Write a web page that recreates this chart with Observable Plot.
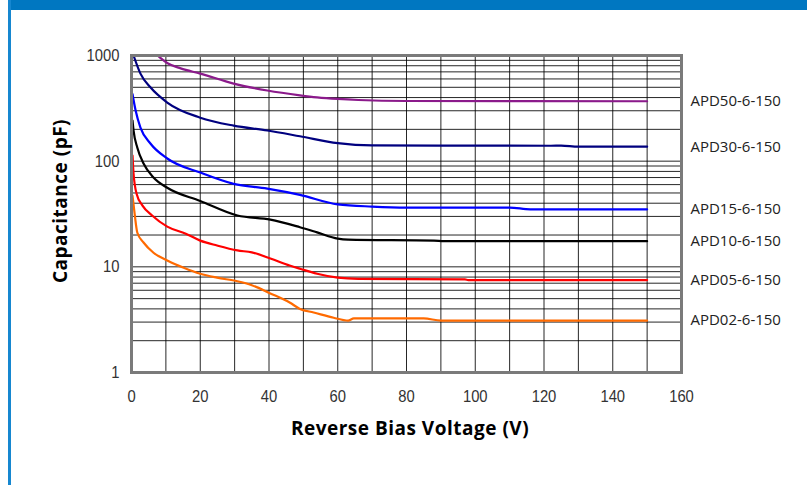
<!DOCTYPE html>
<html>
<head>
<meta charset="utf-8">
<script src="https://cdn.jsdelivr.net/npm/d3@7"></script>
<script src="https://cdn.jsdelivr.net/npm/@observablehq/plot@0.6"></script>
<style>
  html, body { margin: 0; padding: 0; background: #fff; }
  #wrap { position: relative; width: 807px; height: 487px; overflow: hidden; background: #fff; }
  #topbar { position: absolute; left: 8px; top: 0; width: 799px; height: 10px; background: #0077C1; }
  #leftbar { position: absolute; left: 8px; top: 0; width: 3px; height: 485px; background: #1687D0; }
  .axtitle { position: absolute; font-family: "Open Sans", sans-serif; font-weight: 700; font-size: 19px; letter-spacing: 0.5px; color: #000; white-space: nowrap; }
  #xtitle { left: 410px; top: 428px; transform: translate(-50%, -50%); }
  #ytitle { left: 60px; top: 201px; transform: translate(-50%, -50%) rotate(-90deg); }
</style>
</head>
<body>
<div id="wrap">
  <div id="topbar"></div>
  <div id="leftbar"></div>
  <div id="chart"></div>
  <div class="axtitle" id="xtitle">Reverse Bias Voltage (V)</div>
  <div class="axtitle" id="ytitle">Capacitance (pF)</div>
</div>
<script>
// ---- data ----
const seriesNames = ["APD50-6-150", "APD30-6-150", "APD15-6-150", "APD10-6-150", "APD05-6-150", "APD02-6-150"];

const apd50V = [7.6, 8.4, 10.5, 14.3, 20, 29.7, 39.5, 49, 54, 60, 66, 80, 150];
const apd50C = [1000, 950, 845, 755, 674, 542, 466, 420, 402, 388, 379, 371, 369];

const apd30V = [0.6, 2.6, 5.5, 10.4, 20, 29.7, 39.5, 49, 60, 70, 122, 125, 130, 150];
const apd30C = [1000, 674, 500, 359, 258, 217, 195, 172, 148, 141, 140, 140.5, 137, 137];

const apd15V = [0.3, 1.2, 2.6, 5.5, 10.4, 20, 29.7, 39.5, 49, 60, 70, 80, 110, 116, 150];
const apd15C = [430, 301, 208, 147, 106, 78, 61, 55, 48, 39, 37.2, 36.4, 36.4, 35, 35];

const apd10V = [0.3, 0.6, 1.7, 3.5, 6.4, 10.4, 20, 30.8, 40.4, 49, 54, 60, 63, 88, 91, 150];
const apd10C = [242, 195, 134, 95, 70, 56, 42, 30.6, 28, 23.7, 21.2, 18.5, 18.1, 17.7, 17.5, 17.5];

const apd05V = [0.3, 0.6, 1.5, 3.2, 6, 10.4, 15.8, 20, 24.9, 30.8, 35, 40.4, 46, 49, 54, 60, 66, 97, 98, 150];
const apd05C = [113, 76, 49, 38, 30.6, 24, 20.6, 17.7, 15.9, 14.3, 13.7, 12, 10.3, 9.6, 8.6, 7.9, 7.7, 7.6, 7.5, 7.5];

const apd02V = [0.3, 0.9, 1.7, 3.5, 6.4, 10.4, 15.2, 20, 24.9, 30.8, 35, 40.4, 46, 49, 53, 58.8, 63, 64.7, 85, 90, 150];
const apd02C = [47, 32, 21, 17, 13.6, 11.5, 9.8, 8.6, 7.9, 7.3, 6.7, 5.6, 4.6, 4.0, 3.7, 3.3, 3.1, 3.25, 3.25, 3.1, 3.1];

const xTicks = [0, 20, 40, 60, 80, 100, 120, 140, 160];
const yTicks = [1, 10, 100, 1000];

// ---- styles ----
const seriesColors = ["#8B1A8B", "#00007F", "#0000FF", "#000000", "#FF0000", "#FF6A00"];

const seriesV = [apd50V, apd30V, apd15V, apd10V, apd05V, apd02V];
const seriesC = [apd50C, apd30C, apd15C, apd10C, apd05C, apd02C];

const rows = [];
seriesNames.forEach((name, i) => {
  seriesV[i].forEach((v, j) => rows.push({series: name, v, c: seriesC[i][j]}));
});
const labels = seriesNames.map((name, i) => ({series: name, v: seriesV[i][seriesV[i].length - 1], c: seriesC[i][seriesC[i].length - 1]}));

const xGrid = d3.range(0, 161, 10);
const yGrid = [];
for (const dec of [1, 10, 100]) for (let k = 1; k <= 9; k++) yGrid.push(dec * k);
yGrid.push(1000);

const chart = Plot.plot({
  width: 807,
  height: 487,
  marginLeft: 131,
  marginRight: 126,
  marginTop: 55,
  marginBottom: 115,
  style: {fontFamily: "'Liberation Sans', Arial, sans-serif", fontSize: "17px", color: "#222", background: "transparent"},
  x: {domain: [0, 160]},
  y: {type: "log", domain: [1, 1000]},
  color: {domain: seriesNames, range: seriesColors},
  marks: [
    Plot.ruleX(xGrid, {stroke: "#000", strokeWidth: 1, strokeOpacity: 0.85}),
    Plot.ruleY(yGrid, {stroke: "#000", strokeWidth: 1, strokeOpacity: 0.85}),
    Plot.line(rows, {x: "v", y: "c", z: "series", stroke: "series", strokeWidth: 2.2, curve: "monotone-x"}),
    Plot.frame({stroke: "#7a7a7a", strokeWidth: 3}),
    Plot.axisX({ticks: xTicks, tickSize: 0, tickPadding: 17, label: null, fontSize: 17, fill: "#333"}),
    Plot.axisY({ticks: yTicks, tickSize: 0, tickPadding: 12, label: null, tickFormat: d => String(d), fontSize: 17, fill: "#333"}),
    Plot.text(labels, {x: () => 162.6, y: "c", text: "series", textAnchor: "start", fontFamily: "'Open Sans', sans-serif", fontSize: 15, fill: "#222", clip: false})
  ]
});
// condense the tick labels horizontally (narrow typeface in the reference)
chart.querySelectorAll('g[aria-label="x-axis tick label"] text, g[aria-label="y-axis tick label"] text').forEach(t => {
  const tr = t.getAttribute("transform") || "";
  t.setAttribute("transform", tr + " scale(0.87,1)");
});
document.getElementById("chart").appendChild(chart);
</script>
</body>
</html>
